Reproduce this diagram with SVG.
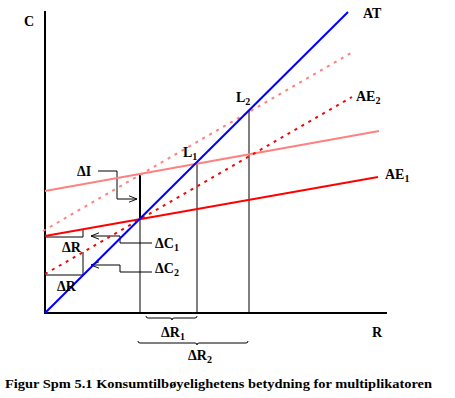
<svg xmlns="http://www.w3.org/2000/svg" width="455" height="398" viewBox="0 0 455 398">
<defs>
<style>
text{font-family:"Liberation Serif","Times New Roman",serif;font-weight:bold;font-size:14px;fill:#000}
.sub{font-size:10px}
.cap{font-size:13px}
.thin{stroke:#000;stroke-width:1;fill:none}
.axis{stroke:#000;stroke-width:2;fill:none}
.red{stroke:#FF0000;stroke-width:2;fill:none}
.pink{stroke:#FF8080;stroke-width:2;fill:none}
.dot{stroke-dasharray:3 5}
.blue{stroke:#0000FF;stroke-width:2;fill:none}
</style>
<marker id="ah" viewBox="0 0 10 10" refX="10" refY="5" markerWidth="8" markerHeight="8" markerUnits="userSpaceOnUse" orient="auto">
<path d="M0,1 L10,5 L0,9" fill="none" stroke="#000" stroke-width="1.2"/>
</marker>
</defs>
<g id="axes">
<line class="axis" x1="45" y1="11" x2="45" y2="313"/>
<line class="axis" x1="44" y1="313" x2="387" y2="313"/>
</g>
<g id="connectors">
<line class="thin" x1="140" y1="173" x2="140" y2="313"/>
<line class="axis" x1="140" y1="173" x2="140" y2="219"/>
<line class="thin" x1="197" y1="162" x2="197" y2="313"/>
<line class="thin" x1="249" y1="110" x2="249" y2="313"/>
<polyline class="thin" points="98,171 117,171 117,199 137,199" marker-end="url(#ah)"/>
<polyline class="thin" points="152,243 120,243 120,236 91,236" marker-end="url(#ah)"/>
<polyline class="thin" points="152,272 120,272 120,265 91,265" marker-end="url(#ah)"/>
<polyline class="thin" points="45,237 83,237 83,230"/>
<polyline class="thin" points="83,252 83,275 46,275"/>
<path class="thin" d="M146,316 Q146,318 148,318 L170,318 Q172,318 172,320 Q172,318 174,318 L195,318 Q197,318 197,316"/>
<path class="thin" d="M138,341 Q138,343 140,343 L195,343 Q197,343 197,345 Q197,343 199,343 L246,343 Q248,343 248,341"/>
</g>
<g id="AE2p"><line class="pink dot" x1="43" y1="231" x2="351" y2="53"/></g>
<g id="AE1p"><line class="pink" x1="45" y1="191" x2="379" y2="131"/></g>
<g id="AE2"><line class="red dot" x1="45" y1="274" x2="352" y2="97"/></g>
<g id="AE1"><line class="red" x1="45" y1="236" x2="378" y2="177"/></g>
<g id="AT"><line class="blue" x1="45" y1="313" x2="348" y2="12"/></g>
<g id="labels">
<text x="24" y="26">C</text>
<text x="372" y="337">R</text>
<text x="363" y="18">AT</text>
<text x="356" y="101">AE<tspan class="sub" dy="3">2</tspan></text>
<text x="385" y="179">AE<tspan class="sub" dy="3">1</tspan></text>
<text x="236" y="102">L<tspan class="sub" dy="3">2</tspan></text>
<text x="183" y="157">L<tspan class="sub" dy="3">1</tspan></text>
<text x="77" y="176">ΔI</text>
<text x="155" y="248">ΔC<tspan class="sub" dy="3">1</tspan></text>
<text x="155" y="273">ΔC<tspan class="sub" dy="3">2</tspan></text>
<text x="62" y="252">ΔR</text>
<text x="57" y="291">ΔR</text>
<text x="161" y="337">ΔR<tspan class="sub" dy="3">1</tspan></text>
<text x="188" y="360">ΔR<tspan class="sub" dy="3">2</tspan></text>
<text class="cap" x="5" y="388" textLength="427" lengthAdjust="spacingAndGlyphs">Figur Spm 5.1 Konsumtilbøyelighetens betydning for multiplikatoren</text>
</g>
</svg>
